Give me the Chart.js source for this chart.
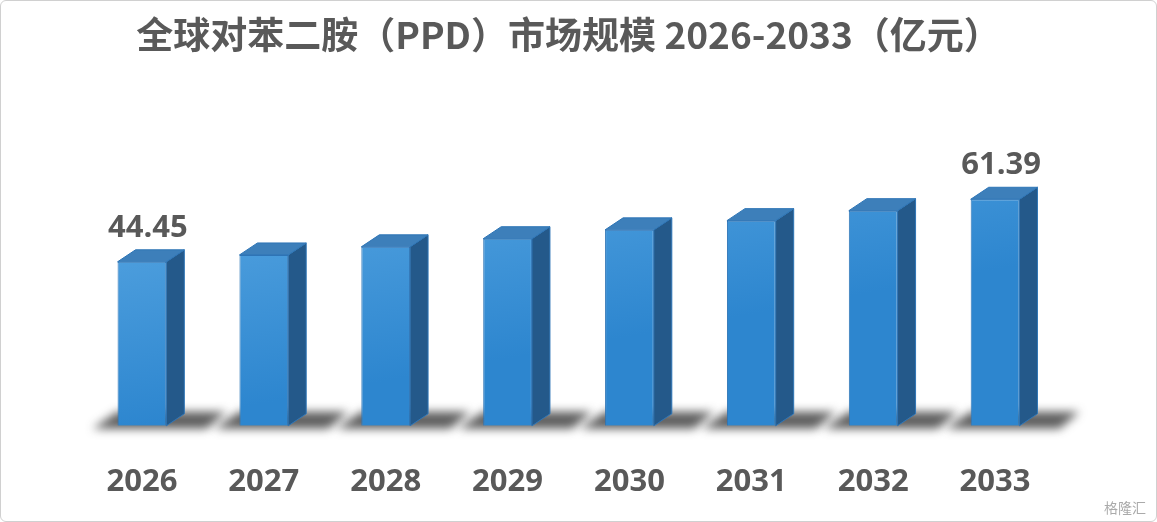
<!DOCTYPE html>
<html>
<head>
<meta charset="utf-8">
<script src="https://cdn.jsdelivr.net/npm/chart.js@4"></script>
<style>
  body { margin: 0; background: #fff; }
  #wrap { width: 1157px; height: 522px; position: relative; box-sizing: border-box; border: 1px solid #d0d0d0; border-radius: 6px; }
  #mark { position: absolute; right: 10px; bottom: 4px; font: 14px "Noto Sans CJK SC"; color: #aaa; }
</style>
</head>
<body>
<div id="wrap">
  <canvas id="c" width="1155" height="520"></canvas>
  <div id="mark">格隆汇</div>
</div>
<script>
const years = ['2026', '2027', '2028', '2029', '2030', '2031', '2032', '2033']
const marketSize = [44.45, 46.3, 48.5, 50.7, 53.1, 55.6, 58.3, 61.39]
const labelIdx = [0, 7]

const DX = 18, DY = 12

const bar3d = {
    id: 'bar3d',
    beforeDatasetsDraw(chart) {
        const ctx = chart.ctx
        chart.getDatasetMeta(0).data.forEach(b => {
            const l = b.x - b.width / 2, r = b.x + b.width / 2, base = b.base
            ctx.save()
            ctx.filter = 'blur(5px)'
            ctx.fillStyle = 'rgba(40,40,40,0.75)'
            ctx.beginPath()
            ctx.moveTo(l - 25, base + 3)
            ctx.lineTo(r + 40, base + 3)
            ctx.lineTo(r + 60, base - DY - 2)
            ctx.lineTo(l, base - DY - 2)
            ctx.closePath()
            ctx.fill()
            ctx.restore()
        })
    },
    afterDatasetsDraw(chart) {
        const ctx = chart.ctx
        chart.getDatasetMeta(0).data.forEach((b, i) => {
            const l = b.x - b.width / 2, r = b.x + b.width / 2, top = b.y, base = b.base
            ctx.save()
            ctx.strokeStyle = '#2e75b6'
            ctx.lineWidth = 1
            ctx.fillStyle = '#24598a'
            ctx.beginPath()
            ctx.moveTo(r, top); ctx.lineTo(r + DX, top - DY); ctx.lineTo(r + DX, base - DY); ctx.lineTo(r, base)
            ctx.closePath(); ctx.fill(); ctx.stroke()
            ctx.fillStyle = '#3d7fba'
            ctx.beginPath()
            ctx.moveTo(l, top); ctx.lineTo(l + DX, top - DY); ctx.lineTo(r + DX, top - DY); ctx.lineTo(r, top)
            ctx.closePath(); ctx.fill(); ctx.stroke()
            if (labelIdx.includes(i)) {
                ctx.fillStyle = '#595959'
                ctx.font = 'bold 31px "Open Sans", "Noto Sans"'
                ctx.textAlign = 'center'
                ctx.textBaseline = 'middle'
                ctx.fillText(marketSize[i].toFixed(2), b.x + 6, top - DY - 22)
            }
            ctx.restore()
        })
    }
}

const cv = document.getElementById('c')
const g = cv.getContext('2d')

new Chart(cv, {
    type: 'bar',
    data: {
        labels: years,
        datasets: [{
            data: marketSize,
            backgroundColor: ctx => {
                const a = ctx.chart.chartArea
                if (!a) return '#4a9ee0'
                const gr = g.createLinearGradient(a.left, a.top, a.left + 60, a.bottom)
                gr.addColorStop(0, '#6ab4ea')
                gr.addColorStop(1, '#2d86cf')
                return gr
            },
            borderColor: '#2e75b6',
            borderWidth: 1,
            barPercentage: 0.4,
            categoryPercentage: 1
        }]
    },
    options: {
        responsive: false,
        animation: false,
        layout: { padding: { top: 10, bottom: -18, left: 80, right: 100 } },
        plugins: {
            legend: { display: false },
            tooltip: { enabled: false },
            title: {
                display: true,
                text: '全球对苯二胺（PPD）市场规模 2026-2033（亿元）',
                color: '#595959',
                font: { size: 37, weight: 'bold', family: '"Noto Sans CJK SC"' },
                padding: { top: 2, bottom: 40 }
            }
        },
        scales: {
            x: {
                grid: { display: false, drawTicks: false },
                border: { display: false },
                ticks: { color: '#595959', padding: 38, font: { size: 31, weight: 'bold', family: '"Open Sans", "Noto Sans"' } }
            },
            y: { display: false, min: 0, max: 89 }
        }
    },
    plugins: [bar3d]
})
</script>
</body>
</html>
